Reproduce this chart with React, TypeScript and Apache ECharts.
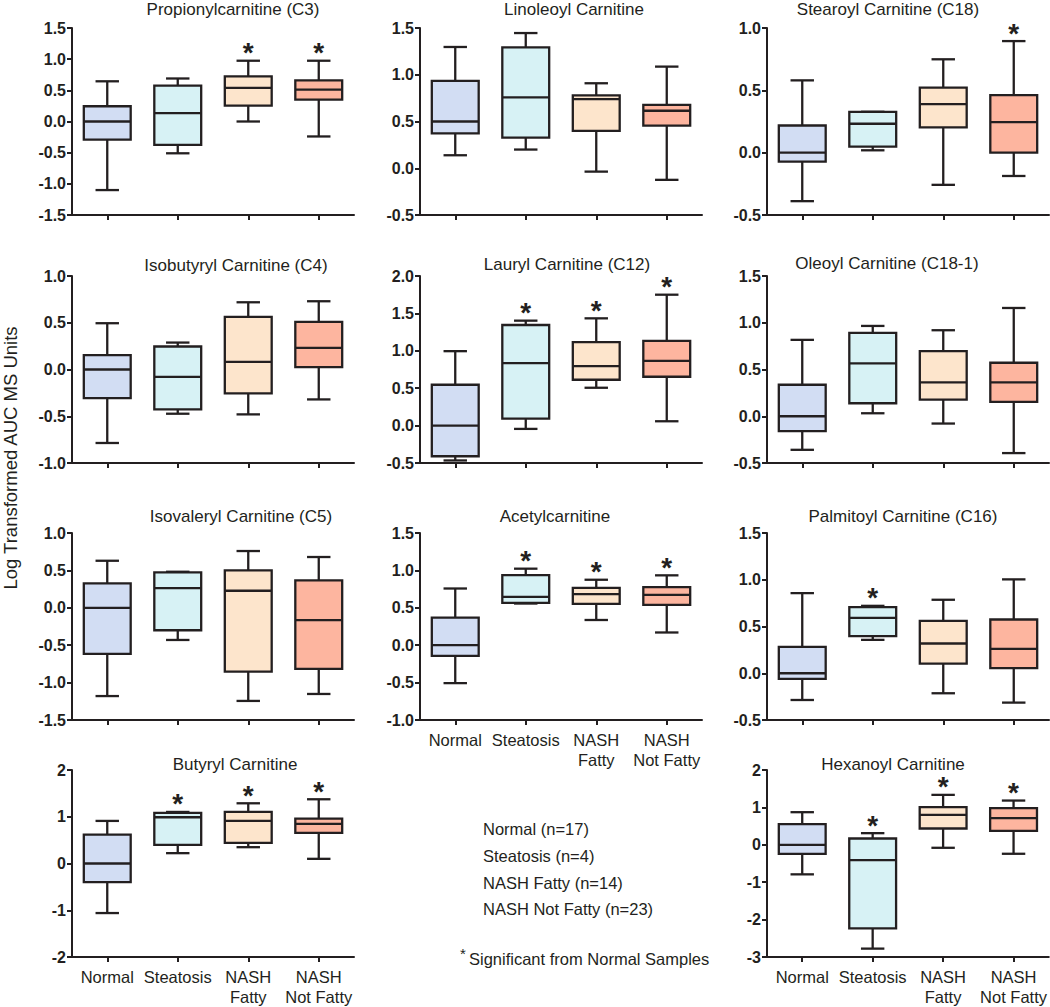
import React, { useEffect, useRef } from "react";
import * as echarts from "echarts";

// ---- categories ----
const groups = ["Normal", "Steatosis", "NASH\nFatty", "NASH\nNot Fatty"];
const groupColors = ["#d2ddf3", "#d7f2f5", "#fde5cc", "#fdb59f"];

// ---- box statistics per group: [min, Q1, median, Q3, max] ----
const propionylC3 = [
  [-1.1, -0.29, 0.0, 0.245, 0.645],
  [-0.51, -0.375, 0.133, 0.575, 0.69],
  [0.0, 0.256, 0.54, 0.725, 0.975],
  [-0.24, 0.35, 0.51, 0.66, 0.975],
];
const linoleoyl = [
  [0.139, 0.373, 0.5, 0.934, 1.297],
  [0.2, 0.327, 0.757, 1.293, 1.446],
  [-0.036, 0.4, 0.739, 0.78, 0.909],
  [-0.124, 0.455, 0.615, 0.678, 1.087],
];
const stearoylC18 = [
  [-0.389, -0.072, 0.0, 0.218, 0.58],
  [0.019, 0.048, 0.232, 0.328, 0.328],
  [-0.258, 0.2025, 0.389, 0.522, 0.749],
  [-0.187, 0.0, 0.245, 0.461, 0.895],
];
const isobutyrylC4 = [
  [-0.786, -0.306, 0.0, 0.153, 0.495],
  [-0.473, -0.427, -0.078, 0.246, 0.288],
  [-0.48, -0.256, 0.082, 0.562, 0.719],
  [-0.32, 0.025, 0.231, 0.509, 0.73],
];
const laurylC12 = [
  [-0.466, -0.41, 0.0, 0.546, 0.995],
  [-0.044, 0.093, 0.835, 1.345, 1.403],
  [0.506, 0.613, 0.795, 1.115, 1.434],
  [0.058, 0.653, 0.866, 1.132, 1.75],
];
const oleoylC181 = [
  [-0.359, -0.16, 0.0, 0.337, 0.817],
  [0.032, 0.139, 0.565, 0.892, 0.966],
  [-0.078, 0.178, 0.362, 0.696, 0.92],
  [-0.394, 0.153, 0.362, 0.572, 1.158],
];
const isovalerylC5 = [
  [-1.18, -0.616, 0.0, 0.326, 0.629],
  [-0.43, -0.3, 0.263, 0.473, 0.482],
  [-1.245, -0.853, 0.228, 0.5, 0.759],
  [-1.152, -0.817, -0.165, 0.366, 0.679],
];
const acetyl = [
  [-0.507, -0.144, 0.0, 0.368, 0.758],
  [0.557, 0.566, 0.646, 0.938, 1.023],
  [0.337, 0.552, 0.682, 0.767, 0.875],
  [0.17, 0.539, 0.673, 0.776, 0.934],
];
const palmitoylC16 = [
  [-0.286, -0.06, 0.0, 0.282, 0.857],
  [0.357, 0.396, 0.593, 0.707, 0.721],
  [-0.214, 0.104, 0.318, 0.561, 0.786],
  [-0.314, 0.054, 0.261, 0.575, 1.004],
];
const butyryl = [
  [-1.06, -0.399, 0.0, 0.619, 0.911],
  [0.221, 0.399, 0.989, 1.082, 1.103],
  [0.349, 0.441, 0.911, 1.103, 1.288],
  [0.1, 0.655, 0.847, 0.961, 1.374],
];
const hexanoyl = [
  [-0.79, -0.24, 0.0, 0.552, 0.872],
  [-2.776, -2.233, -0.409, 0.169, 0.311],
  [-0.08, 0.436, 0.8, 1.005, 1.335],
  [-0.24, 0.374, 0.712, 0.979, 1.183],
];

// ---- significance flags (vs Normal) ----
const sigPropionyl = [0, 0, 1, 1];
const sigNone = [0, 0, 0, 0];
const sigStearoyl = [0, 0, 0, 1];
const sigLauryl = [0, 1, 1, 1];
const sigAcetyl = [0, 1, 1, 1];
const sigPalmitoyl = [0, 1, 0, 0];
const sigButyryl = [0, 1, 1, 1];
const sigHexanoyl = [0, 1, 1, 1];

// ---- y axis ranges: [min, max, interval, decimals] ----
const yPropionyl = [-1.5, 1.5, 0.5, 1];
const yLinoleoyl = [-0.5, 1.5, 0.5, 1];
const yStearoyl = [-0.5, 1.0, 0.5, 1];
const yIsobutyryl = [-1.0, 1.0, 0.5, 1];
const yLauryl = [-0.5, 2.0, 0.5, 1];
const yOleoyl = [-0.5, 1.5, 0.5, 1];
const yIsovaleryl = [-1.5, 1.0, 0.5, 1];
const yAcetyl = [-1.0, 1.5, 0.5, 1];
const yPalmitoyl = [-0.5, 1.5, 0.5, 1];
const yButyryl = [-2, 2, 1, 0];
const yHexanoyl = [-3, 2, 1, 0];

const legendLines = [
  "Normal (n=17)",
  "Steatosis (n=4)",
  "NASH Fatty (n=14)",
  "NASH Not Fatty (n=23)",
];

const FONT = '"Liberation Sans", Arial, Helvetica, sans-serif';
const INK = "#231f20";

type Panel = {
  title: string;
  stats: number[][];
  sig: number[];
  y: number[];
  left: number;
  top: number;
  titleX: number;
  titleY: number;
  showLabels: boolean;
};

const COLS = [72, 420, 767];
const ROWS = [28, 276, 533, 770];

const panels: Panel[] = [
  { title: "Propionylcarnitine (C3)", stats: propionylC3, sig: sigPropionyl, y: yPropionyl, left: COLS[0], top: ROWS[0], titleX: 233, titleY: 9.5, showLabels: false },
  { title: "Linoleoyl Carnitine", stats: linoleoyl, sig: sigNone, y: yLinoleoyl, left: COLS[1], top: ROWS[0], titleX: 574, titleY: 9.5, showLabels: false },
  { title: "Stearoyl Carnitine (C18)", stats: stearoylC18, sig: sigStearoyl, y: yStearoyl, left: COLS[2], top: ROWS[0], titleX: 888, titleY: 9.5, showLabels: false },
  { title: "Isobutyryl Carnitine (C4)", stats: isobutyrylC4, sig: sigNone, y: yIsobutyryl, left: COLS[0], top: ROWS[1], titleX: 236, titleY: 265.5, showLabels: false },
  { title: "Lauryl Carnitine (C12)", stats: laurylC12, sig: sigLauryl, y: yLauryl, left: COLS[1], top: ROWS[1], titleX: 567, titleY: 264, showLabels: false },
  { title: "Oleoyl Carnitine (C18-1)", stats: oleoylC181, sig: sigNone, y: yOleoyl, left: COLS[2], top: ROWS[1], titleX: 887, titleY: 263, showLabels: false },
  { title: "Isovaleryl Carnitine (C5)", stats: isovalerylC5, sig: sigNone, y: yIsovaleryl, left: COLS[0], top: ROWS[2], titleX: 241, titleY: 516, showLabels: false },
  { title: "Acetylcarnitine", stats: acetyl, sig: sigAcetyl, y: yAcetyl, left: COLS[1], top: ROWS[2], titleX: 555, titleY: 516, showLabels: true },
  { title: "Palmitoyl Carnitine (C16)", stats: palmitoylC16, sig: sigPalmitoyl, y: yPalmitoyl, left: COLS[2], top: ROWS[2], titleX: 903, titleY: 516.5, showLabels: false },
  { title: "Butyryl Carnitine", stats: butyryl, sig: sigButyryl, y: yButyryl, left: COLS[0], top: ROWS[3], titleX: 235, titleY: 764, showLabels: true },
  { title: "Hexanoyl Carnitine", stats: hexanoyl, sig: sigHexanoyl, y: yHexanoyl, left: COLS[2], top: ROWS[3], titleX: 893, titleY: 764, showLabels: true },
];

function buildOption() {
  const grid: any[] = [];
  const xAxis: any[] = [];
  const yAxis: any[] = [];
  const series: any[] = [];
  const graphic: any[] = [];

  panels.forEach((p, i) => {
    grid.push({ left: p.left, top: p.top, width: 282, height: 187, containLabel: false });
    xAxis.push({
      type: "category",
      gridIndex: i,
      data: groups,
      axisLine: { show: true, onZero: false, lineStyle: { color: INK, width: 2 } },
      axisTick: { show: true, alignWithLabel: true, length: 5, lineStyle: { color: INK, width: 2 } },
      axisLabel: {
        show: p.showLabels,
        interval: 0,
        color: INK,
        fontFamily: FONT,
        fontSize: 16.5,
        lineHeight: 20,
        margin: 10,
      },
      splitLine: { show: false },
    });
    const [mn, mx, step, dec] = p.y;
    yAxis.push({
      type: "value",
      gridIndex: i,
      min: mn,
      max: mx,
      interval: step,
      axisLine: { show: true, onZero: false, lineStyle: { color: INK, width: 2 } },
      axisTick: { show: true, length: 5, lineStyle: { color: INK, width: 2 } },
      axisLabel: {
        color: INK,
        fontFamily: FONT,
        fontSize: 16,
        fontWeight: "bold",
        margin: 6,
        formatter: (v: number) => v.toFixed(dec),
      },
      splitLine: { show: false },
    });
    series.push({
      type: "custom",
      xAxisIndex: i,
      yAxisIndex: i,
      encode: { x: 0, y: [1, 2, 3, 4, 5] },
      data: p.stats.map((s, j) => [j, ...s, p.sig[j]]),
      renderItem: (params: any, api: any) => {
        const cat = api.value(0);
        const vals = [1, 2, 3, 4, 5].map((k) => api.value(k));
        const sig = api.value(6);
        const cx = api.coord([cat, 0])[0];
        const ys = vals.map((v: number) => api.coord([cat, v])[1]);
        const band = api.size([1, 0])[0];
        const bw = band * 0.665;
        const cw = bw / 2;
        const lineStyle = { stroke: INK, lineWidth: 2.3 };
        const children: any[] = [
          { type: "line", shape: { x1: cx, y1: ys[3], x2: cx, y2: ys[4] }, style: lineStyle },
          { type: "line", shape: { x1: cx, y1: ys[0], x2: cx, y2: ys[1] }, style: lineStyle },
          { type: "line", shape: { x1: cx - cw / 2, y1: ys[4], x2: cx + cw / 2, y2: ys[4] }, style: lineStyle },
          { type: "line", shape: { x1: cx - cw / 2, y1: ys[0], x2: cx + cw / 2, y2: ys[0] }, style: lineStyle },
          {
            type: "rect",
            shape: { x: cx - bw / 2, y: ys[3], width: bw, height: ys[1] - ys[3] },
            style: { fill: groupColors[cat], stroke: INK, lineWidth: 2.3 },
          },
          { type: "line", shape: { x1: cx - bw / 2, y1: ys[2], x2: cx + bw / 2, y2: ys[2] }, style: lineStyle },
        ];
        if (sig) {
          children.push({
            type: "text",
            style: {
              text: "*",
              x: cx,
              y: ys[4] - 8,
              align: "center",
              verticalAlign: "middle",
              font: `bold 28px ${FONT}`,
              fill: INK,
            },
          });
        }
        return { type: "group", children };
      },
      z: 2,
    });
    graphic.push({
      type: "text",
      style: {
        text: p.title,
        x: p.titleX,
        y: p.titleY,
        align: "center",
        verticalAlign: "middle",
        font: `17px ${FONT}`,
        fill: INK,
      },
    });
  });

  graphic.push({
    type: "text",
    x: 10.5,
    y: 458,
    rotation: Math.PI / 2,
    style: {
      text: "Log Transformed AUC MS Units",
      x: 0,
      y: 0,
      align: "center",
      verticalAlign: "middle",
      font: `18.5px ${FONT}`,
      fill: INK,
    },
  });

  const legendYs = [829, 856, 882.5, 909];
  legendLines.forEach((t, k) => {
    graphic.push({
      type: "text",
      style: {
        text: t,
        x: 483,
        y: legendYs[k],
        align: "left",
        verticalAlign: "middle",
        font: `16.5px ${FONT}`,
        fill: INK,
      },
    });
  });
  graphic.push({
    type: "text",
    style: { text: "*", x: 463, y: 953, align: "center", verticalAlign: "middle", font: `15px ${FONT}`, fill: INK },
  });
  graphic.push({
    type: "text",
    style: {
      text: "Significant from Normal Samples",
      x: 469,
      y: 958.7,
      align: "left",
      verticalAlign: "middle",
      font: `16.5px ${FONT}`,
      fill: INK,
    },
  });

  return {
    animation: false,
    backgroundColor: "#ffffff",
    grid,
    xAxis,
    yAxis,
    series,
    graphic,
  };
}

export default function App() {
  const ref = useRef<HTMLDivElement>(null);
  useEffect(() => {
    document.body.style.margin = "0";
    if (!ref.current) return;
    const chart = echarts.init(ref.current, undefined, { renderer: "svg" });
    chart.setOption(buildOption() as any);
    return () => {
      chart.dispose();
    };
  }, []);
  return <div ref={ref} style={{ width: 1050, height: 1007 }} />;
}
